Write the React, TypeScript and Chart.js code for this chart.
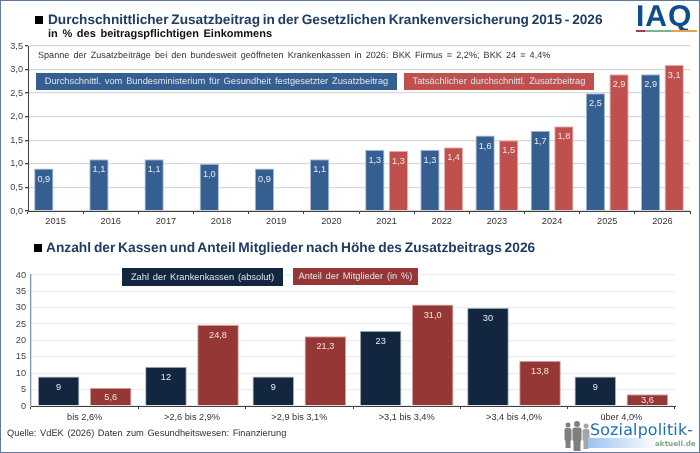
import React, { useEffect, useRef } from "react";
import { Chart, registerables } from "chart.js";

Chart.register(...registerables);

const years = ["2015", "2016", "2017", "2018", "2019", "2020", "2021", "2022", "2023", "2024", "2025", "2026"];
const festgesetzt = [0.9, 1.1, 1.1, 1.0, 0.9, 1.1, 1.3, 1.3, 1.6, 1.7, 2.5, 2.9];
const tatsaechlich = [null, null, null, null, null, null, 1.28, 1.35, 1.5, 1.8, 2.9, 3.1];
const tatsaechlichLabels = ["", "", "", "", "", "", "1,3", "1,4", "1,5", "1,8", "2,9", "3,1"];
const classes = ["bis 2,6%", ">2,6 bis 2,9%", ">2,9 bis 3,1%", ">3,1 bis 3,4%", ">3,4 bis 4,0%", "über 4,0%"];
const kassen = [9, 12, 9, 23, 30, 9];
const mitglieder = [5.6, 24.8, 21.3, 31.0, 13.8, 3.6];

const FONT = "'Liberation Sans', Arial, sans-serif";
const de = (v: number, d: number) => v.toFixed(d).replace(".", ",");

const valueLabels = {
  id: "valueLabels",
  afterDatasetsDraw(chart: any) {
    const ctx = chart.ctx;
    ctx.save();
    ctx.textAlign = "center";
    ctx.textBaseline = "middle";
    chart.data.datasets.forEach((ds: any, di: number) => {
      chart.getDatasetMeta(di).data.forEach((bar: any, i: number) => {
        const v = ds.data[i];
        if (v === null || v === undefined) return;
        const text = ds.valueText ? ds.valueText[i] : de(v, ds.decimals);
        const h = bar.base - bar.y;
        ctx.fillStyle = ds.labelColor;
        ctx.font = `9.2px ${FONT}`;
        ctx.fillText(text, bar.x, bar.y + Math.min(10.5, h / 2 + 0.5));
      });
    });
    ctx.restore();
  },
};

function makeChart(canvas: HTMLCanvasElement, cfg: any) {
  const s = cfg;
  return new Chart(canvas, {
    type: "bar",
    data: { labels: s.labels, datasets: s.datasets },
    plugins: [valueLabels],
    options: {
      animation: false,
      responsive: false,
      devicePixelRatio: 1,
      layout: { padding: { top: s.top, right: s.right, left: 0, bottom: 0 } },
      plugins: { legend: { display: false }, tooltip: { enabled: false } },
      scales: {
        x: {
          stacked: false,
          afterFit: (a: any) => { a.height = s.xHeight; },
          border: { color: "#404040", width: 1 },
          grid: { drawOnChartArea: false, drawTicks: true, tickLength: 3, color: "#404040" },
          ticks: { color: "#333", font: { family: FONT, size: 9.2 }, padding: s.xPad, maxRotation: 0, autoSkip: false },
        },
        y: {
          min: 0,
          max: s.max,
          afterFit: (a: any) => { a.width = s.yWidth; },
          border: { color: s.yBorder, width: s.yBorderW },
          grid: { color: s.gridColor, lineWidth: 1.3, tickLength: 3, tickColor: s.tickColor },
          ticks: {
            stepSize: s.step,
            color: "#444",
            padding: 2,
            font: { family: FONT, size: 9.2 },
            callback: (v: any) => de(Number(v), s.tickDec),
          },
        },
      },
    },
  } as any);
}

const abs = (o: React.CSSProperties): React.CSSProperties => ({ position: "absolute", whiteSpace: "nowrap", fontFamily: FONT, textRendering: "geometricPrecision", ...o });

function box(left: number, top: number, width: number, height: number, bg: string, text: string, ws = 1.2): React.ReactElement {
  return (
    <div style={abs({ left, top, width, height, background: bg, color: "#DDE4EC", fontSize: 9.3, lineHeight: height + "px", textAlign: "center", wordSpacing: ws, boxShadow: "0 0 0 1px #ffffff" })}>
      {text}
    </div>
  );
}

export default function App() {
  const a = useRef<HTMLCanvasElement>(null);
  const b = useRef<HTMLCanvasElement>(null);
  useEffect(() => {
    document.body.style.margin = "0";
    const c1 = makeChart(a.current!, {
      labels: years,
      top: 46, right: 10, xHeight: 19, yWidth: 28, max: 3.5, step: 0.5, tickDec: 1, xPad: 2,
      yBorder: "#404040", yBorderW: 1, gridColor: "#DADADA", tickColor: "#404040",
      datasets: [
        { data: festgesetzt, backgroundColor: "#355F91", borderColor: "#A9BDD5", borderWidth: { top: 1, left: 1, right: 1, bottom: 0 }, categoryPercentage: 0.855, barPercentage: 0.82, labelColor: "#E6ECF3", decimals: 1 },
        { data: tatsaechlich, backgroundColor: "#C0504D", borderColor: "#E5B5B3", borderWidth: { top: 1, left: 1, right: 1, bottom: 0 }, categoryPercentage: 0.855, barPercentage: 0.82, labelColor: "#F7E4E3", decimals: 1, valueText: tatsaechlichLabels },
      ],
    });
    const c2 = makeChart(b.current!, {
      labels: classes,
      top: 45, right: 25, xHeight: 47, yWidth: 31, max: 40, step: 5, tickDec: 0, xPad: 3,
      yBorder: "#8095AE", yBorderW: 1.3, gridColor: "#EDEDED", tickColor: "rgba(0,0,0,0)",
      datasets: [
        { data: kassen, backgroundColor: "#12263F", borderColor: "#AEB6C2", borderWidth: { top: 1, left: 1, right: 1, bottom: 0 }, categoryPercentage: 0.97, barPercentage: 0.8, labelColor: "#E8ECF1", decimals: 0 },
        { data: mitglieder, backgroundColor: "#953735", borderColor: "#D5ABAA", borderWidth: { top: 1, left: 1, right: 1, bottom: 0 }, categoryPercentage: 0.97, barPercentage: 0.8, labelColor: "#F5E3E2", decimals: 1 },
      ],
    });
    return () => { c1.destroy(); c2.destroy(); };
  }, []);
  return (
    <div style={{ position: "fixed", left: 0, top: 0, width: 700, height: 453, background: "#fff", overflow: "hidden" }}>
      <canvas ref={a} width={700} height={230} style={{ position: "absolute", left: 0, top: 0, width: 700, height: 230 }} />
      <canvas ref={b} width={700} height={223} style={{ position: "absolute", left: 0, top: 230, width: 700, height: 223 }} />

      <div style={abs({ left: 35, top: 16, width: 8, height: 8, background: "#000" })} />
      <div style={abs({ left: 48, top: 11, fontSize: 13.65, lineHeight: "18px", fontWeight: 700, color: "#1F3C63", wordSpacing: -1 })}>
        Durchschnittlicher Zusatzbeitrag in der Gesetzlichen Krankenversicherung 2015 - 2026
      </div>
      <div style={abs({ left: 48, top: 27, fontSize: 11, lineHeight: "14px", fontWeight: 700, color: "#111", wordSpacing: 1.6 })}>
        in % des beitragspflichtigen Einkommens
      </div>
      <div style={abs({ left: 38, top: 49, fontSize: 9.1, lineHeight: "12px", color: "#333", wordSpacing: 1.6 })}>
        Spanne der Zusatzbeiträge bei den bundesweit geöffneten Krankenkassen in 2026: BKK Firmus = 2,2%; BKK 24 = 4,4%
      </div>
      {box(36, 73, 361, 17, "#355F91", "Durchschnittl. vom Bundesministerium für Gesundheit festgesetzter Zusatzbeitrag")}
      {box(404, 73, 190, 17, "#C0504D", "Tatsächlicher durchschnittl. Zusatzbeitrag")}

      <div style={abs({ left: 34, top: 244, width: 8, height: 8, background: "#000" })} />
      <div style={abs({ left: 46, top: 239, fontSize: 13.75, lineHeight: "18px", fontWeight: 700, color: "#1F3C63", wordSpacing: -1 })}>
        Anzahl der Kassen und Anteil Mitglieder nach Höhe des Zusatzbeitrags 2026
      </div>
      {box(122, 268, 161, 18, "#12263F", "Zahl der Krankenkassen (absolut)")}
      {box(293, 268, 125, 17, "#953735", "Anteil der Mitglieder (in %)")}

      <div style={abs({ left: 7, top: 427, fontSize: 9.3, lineHeight: "12px", color: "#333", wordSpacing: 1 })}>
        Quelle: VdEK (2026) Daten zum Gesundheitswesen: Finanzierung
      </div>

      <div style={abs({ left: 636, top: 1, fontSize: 30, lineHeight: "32px", fontWeight: 700, color: "#0F4C8C", letterSpacing: 1 })}>IAQ</div>
      <div style={abs({ left: 636, top: 30, width: 9, height: 2, background: "#A8345F" })} />
      <div style={abs({ left: 645, top: 30, width: 26, height: 2, background: "#79B58C" })} />
      <div style={abs({ left: 671, top: 30, width: 26, height: 2, background: "#E5A24A" })} />

      <svg width={30} height={32} style={{ position: "absolute", left: 562, top: 420 }}>
        <g fill="#7F7F7F">
          <circle cx={6} cy={5} r={2.5} /><rect x={2.5} y={8} width={7} height={13} rx={2} /><rect x={3.5} y={20} width={5} height={8} />
          <circle cx={15} cy={4} r={3} /><rect x={10.5} y={7.5} width={9} height={14} rx={2} /><rect x={11.5} y={20} width={7} height={11} />
        </g>
        <g fill="#A6A6A6"><circle cx={24} cy={6} r={2.5} /><rect x={20.5} y={9} width={7} height={12} rx={2} /><rect x={21.5} y={20} width={5} height={9} /></g>
      </svg>
      <div style={abs({ left: 588, top: 438, width: 70, height: 10, background: "linear-gradient(90deg,#9CC3F0,#ffffff)" })} />
      <div style={abs({ left: 590, top: 420, fontFamily: "'DejaVu Sans', sans-serif", fontSize: 15.8, lineHeight: "20px", color: "#1C6FB5", letterSpacing: 0.2 })}>Sozialpolitik-</div>
      <div style={abs({ left: 655, top: 438, fontFamily: "'DejaVu Sans', sans-serif", fontSize: 7.2, lineHeight: "12px", fontWeight: 700, color: "#7FA98C" })}>aktuell.de</div>

      <div style={{ position: "absolute", inset: 0, border: "1.5px solid #5F7A9A", boxSizing: "border-box", pointerEvents: "none" }} />
    </div>
  );
}
